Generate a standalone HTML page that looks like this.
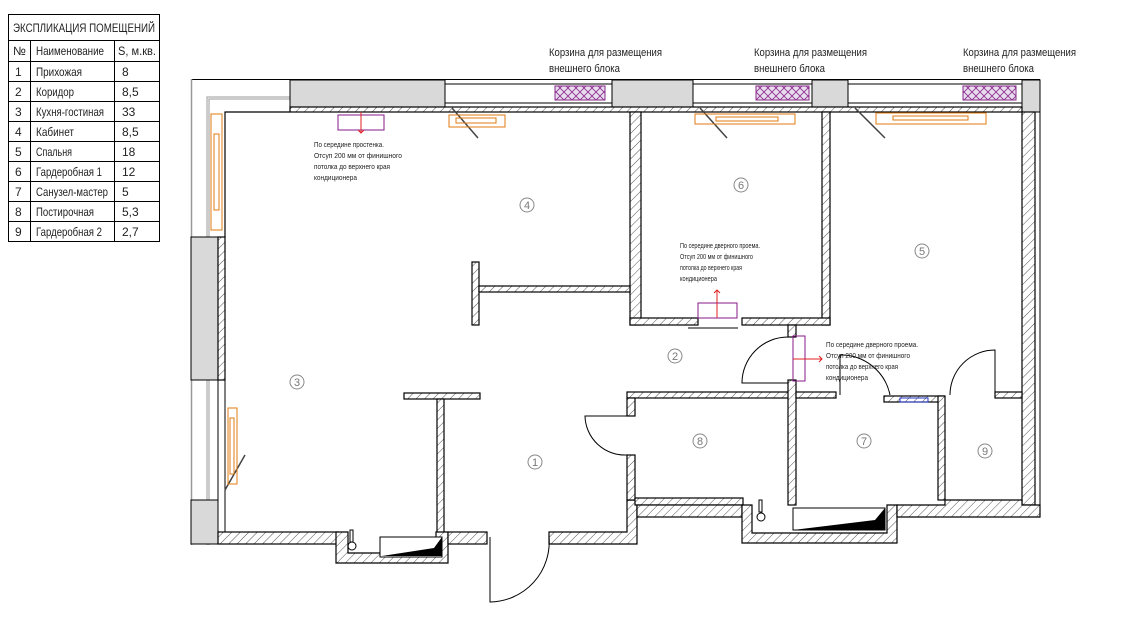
<!DOCTYPE html>
<html><head><meta charset="utf-8"><style>
html,body{margin:0;padding:0;background:#fff;width:1140px;height:627px;overflow:hidden}
svg{display:block}
text{font-family:"Liberation Sans",sans-serif}
</style></head><body>
<svg width="1140" height="627" viewBox="0 0 1140 627" xmlns="http://www.w3.org/2000/svg">
<defs>
<pattern id="h" width="6" height="6" patternUnits="userSpaceOnUse" patternTransform="rotate(45)">
<rect width="6" height="6" fill="#fff"/><line x1="0" y1="0" x2="0" y2="6" stroke="#555" stroke-width="1"/>
</pattern>
<pattern id="x" width="8" height="8" patternUnits="userSpaceOnUse">
<rect width="8" height="8" fill="#e8dcef"/><path d="M0 0L8 8M8 0L0 8" stroke="#8a2a8a" stroke-width="0.8"/>
</pattern>
</defs>

<!-- table -->
<g font-size="12" fill="#222" stroke="none">
<rect x="8.5" y="14.5" width="151" height="227" fill="none" stroke="#000"/>
<g stroke="#000" stroke-width="1">
<line x1="8" y1="40.5" x2="160" y2="40.5"/>
<line x1="8" y1="61.5" x2="160" y2="61.5"/>
<line x1="8" y1="81.5" x2="160" y2="81.5"/>
<line x1="8" y1="101.5" x2="160" y2="101.5"/>
<line x1="8" y1="121.5" x2="160" y2="121.5"/>
<line x1="8" y1="141.5" x2="160" y2="141.5"/>
<line x1="8" y1="161.5" x2="160" y2="161.5"/>
<line x1="8" y1="181.5" x2="160" y2="181.5"/>
<line x1="8" y1="201.5" x2="160" y2="201.5"/>
<line x1="8" y1="221.5" x2="160" y2="221.5"/>
<line x1="30.5" y1="40" x2="30.5" y2="242"/>
<line x1="114.5" y1="40" x2="114.5" y2="242"/>
</g>
<text x="13" y="32" textLength="142" lengthAdjust="spacingAndGlyphs">ЭКСПЛИКАЦИЯ ПОМЕЩЕНИЙ</text>
<text x="13" y="55">№</text><text x="36" y="55" textLength="68" lengthAdjust="spacingAndGlyphs">Наименование</text><text x="118" y="55" textLength="38" lengthAdjust="spacingAndGlyphs">S, м.кв.</text>
<text x="15" y="76">1</text><text x="36" y="76" textLength="46" lengthAdjust="spacingAndGlyphs">Прихожая</text><text x="122" y="76">8</text>
<text x="15" y="96">2</text><text x="36" y="96" textLength="38" lengthAdjust="spacingAndGlyphs">Коридор</text><text x="122" y="96">8,5</text>
<text x="15" y="116">3</text><text x="36" y="116" textLength="68" lengthAdjust="spacingAndGlyphs">Кухня-гостиная</text><text x="122" y="116">33</text>
<text x="15" y="136">4</text><text x="36" y="136" textLength="38" lengthAdjust="spacingAndGlyphs">Кабинет</text><text x="122" y="136">8,5</text>
<text x="15" y="156">5</text><text x="36" y="156" textLength="36" lengthAdjust="spacingAndGlyphs">Спальня</text><text x="122" y="156">18</text>
<text x="15" y="176">6</text><text x="36" y="176" textLength="66" lengthAdjust="spacingAndGlyphs">Гардеробная 1</text><text x="122" y="176">12</text>
<text x="15" y="196">7</text><text x="36" y="196" textLength="72" lengthAdjust="spacingAndGlyphs">Санузел-мастер</text><text x="122" y="196">5</text>
<text x="15" y="216">8</text><text x="36" y="216" textLength="58" lengthAdjust="spacingAndGlyphs">Постирочная</text><text x="122" y="216">5,3</text>
<text x="15" y="236">9</text><text x="36" y="236" textLength="66" lengthAdjust="spacingAndGlyphs">Гардеробная 2</text><text x="122" y="236">2,7</text>
</g>

<!-- labels top -->
<g font-size="11" fill="#222">
<text x="549" y="56" textLength="113" lengthAdjust="spacingAndGlyphs">Корзина для размещения</text><text x="549" y="72" textLength="71" lengthAdjust="spacingAndGlyphs">внешнего блока</text>
<text x="754" y="56" textLength="113" lengthAdjust="spacingAndGlyphs">Корзина для размещения</text><text x="754" y="72" textLength="71" lengthAdjust="spacingAndGlyphs">внешнего блока</text>
<text x="963" y="56" textLength="113" lengthAdjust="spacingAndGlyphs">Корзина для размещения</text><text x="963" y="72" textLength="71" lengthAdjust="spacingAndGlyphs">внешнего блока</text>
</g>

<!-- outer lines -->
<line x1="191" y1="79.5" x2="1040" y2="79.5" stroke="#000"/>
<line x1="191.5" y1="79" x2="191.5" y2="545" stroke="#999" stroke-width="1.5"/>
<path d="M208 545V98H290" fill="none" stroke="#999" stroke-width="3"/>
<path d="M208 545V98H290" fill="none" stroke="#fff" stroke-width="1"/>

<!-- gray blocks -->
<g fill="#d9d9d9" stroke="#000">
<rect x="290" y="80" width="155" height="27"/>
<rect x="612" y="80" width="81" height="27"/>
<rect x="812" y="80" width="36" height="27"/>
<rect x="1022" y="80" width="18" height="32"/>
<rect x="191" y="237" width="27" height="143"/>
<rect x="191" y="500" width="27" height="44"/>
</g>
<!-- baskets -->
<g fill="#fff" stroke="#000">
<rect x="445" y="84" width="167" height="19"/>
<rect x="693" y="84" width="119" height="19"/>
<rect x="848" y="84" width="174" height="19"/>
</g>
<g fill="url(#x)" stroke="#8a2a8a">
<rect x="555" y="86" width="50" height="14"/>
<rect x="756" y="86" width="53" height="14"/>
<rect x="963" y="86" width="53" height="14"/>
</g>

<!-- walls (hatched) -->
<g fill="url(#h)" stroke="#000" stroke-width="1.2">
<rect x="290" y="107" width="732" height="5"/>
<rect x="218" y="237" width="7" height="143"/>
<rect x="630" y="112" width="11" height="213"/>
<rect x="822" y="112" width="8" height="213"/>
<rect x="630" y="318" width="68" height="7"/>
<rect x="742" y="318" width="88" height="7"/>
<rect x="1022" y="112" width="13" height="393"/>
<rect x="472" y="262" width="7" height="63"/>
<rect x="479" y="286" width="151" height="6"/>
<rect x="404" y="393" width="76" height="6"/>
<rect x="437" y="399" width="7" height="134"/>
<rect x="218" y="532" width="120" height="12"/>
<path d="M336 532H348V553H436V532H448V563H336Z"/>
<rect x="448" y="532" width="39" height="12"/>
<path d="M549 532H627V500H637V544H549Z"/>
<rect x="627" y="392" width="162" height="6"/>
<rect x="627" y="398" width="8" height="18"/>
<rect x="627" y="455" width="8" height="45"/>
<rect x="788" y="325" width="8" height="12"/>
<rect x="788" y="380" width="8" height="125"/>
<rect x="796" y="392" width="40" height="6"/>
<rect x="884" y="396" width="60" height="6"/>
<rect x="938" y="396" width="7" height="104"/>
<rect x="995" y="392" width="27" height="6"/>
<rect x="635" y="498" width="108" height="7"/>
<rect x="637" y="505" width="105" height="12"/>
<path d="M742 505H752V533H887V505H897V543H742Z"/>
<path d="M897 505H945V500H1022V505H1040V517H897Z"/>
</g>
<line x1="1040" y1="80" x2="1040" y2="517" stroke="#000"/>

<!-- inner corner lines -->
<path d="M225 237V112H290" fill="none" stroke="#000" stroke-width="1.2"/>
<line x1="218" y1="380" x2="218" y2="500" stroke="#000"/>
<line x1="225" y1="380" x2="225" y2="532" stroke="#000"/>

<!-- bathroom fixtures -->
<rect x="380" y="537" width="62" height="20" fill="#fff" stroke="#000"/>
<path d="M382 556L442 556L442 537L434 548Z" fill="#000"/>
<circle cx="352" cy="546" r="4" fill="none" stroke="#000"/>
<rect x="350" y="530" width="3" height="12" fill="none" stroke="#000"/>
<rect x="793" y="508" width="92" height="22" fill="#fff" stroke="#000"/>
<path d="M793 530L885 530L885 508L875 520Z" fill="#000"/>
<circle cx="761" cy="517" r="4" fill="none" stroke="#000"/>
<rect x="759" y="500" width="3" height="12" fill="none" stroke="#000"/>
<rect x="900" y="398" width="28" height="4" fill="none" stroke="#2233cc"/>

<!-- doors -->
<g fill="none" stroke="#000" stroke-width="1">
<path d="M490 537V602A60 60 0 0 0 549 537"/>
<path d="M627 416H585A40 40 0 0 0 627 455"/>
<path d="M788 337A46 46 0 0 0 742 383H788"/>
<path d="M840 395V355A50 50 0 0 1 890 395"/>
<path d="M995 392V350A45 45 0 0 0 950 395"/>
<line x1="688" y1="328" x2="738" y2="328"/>
</g>

<!-- window diagonals -->
<g stroke="#444" stroke-width="1.5">
<line x1="452" y1="108" x2="478" y2="138"/>
<line x1="700" y1="108" x2="727" y2="138"/>
<line x1="855" y1="108" x2="885" y2="138"/>
<line x1="245" y1="455" x2="225" y2="490"/>
</g>

<!-- AC units -->
<g fill="none" stroke="#e07b10">
<rect x="449" y="115" width="56" height="12"/><rect x="456" y="118" width="40" height="5"/>
<rect x="695" y="114" width="100" height="10"/><rect x="716" y="117" width="62" height="4"/>
<rect x="876" y="113" width="110" height="11"/><rect x="893" y="116" width="75" height="4"/>
<rect x="211" y="114" width="11" height="116"/><rect x="214" y="134" width="5" height="76"/>
<rect x="228" y="408" width="9" height="76"/><rect x="230" y="418" width="4" height="56"/>
</g>
<g fill="none" stroke="#8a1a8a">
<rect x="338" y="115" width="46" height="15"/>
<rect x="698" y="303" width="39" height="15"/>
<rect x="793" y="336" width="12" height="45"/>
</g>
<g stroke="#e02020" fill="none">
<line x1="361" y1="112" x2="361" y2="133"/><path d="M358 130L361 133L364 130"/>
<line x1="717" y1="318" x2="717" y2="290"/><path d="M714 293L717 290L720 293"/>
<line x1="793" y1="359" x2="822" y2="359"/><path d="M819 356L822 359L819 362"/>
</g>

<!-- notes -->
<g font-size="7.5" fill="#222">
<text x="314" y="147" textLength="70" lengthAdjust="spacingAndGlyphs">По середине простенка.</text>
<text x="314" y="158" textLength="88" lengthAdjust="spacingAndGlyphs">Отсуп 200 мм от финишного</text>
<text x="314" y="169" textLength="76" lengthAdjust="spacingAndGlyphs">потолка до верхнего края</text>
<text x="314" y="180" textLength="43" lengthAdjust="spacingAndGlyphs">кондиционера</text>
<text x="680" y="248" textLength="80" lengthAdjust="spacingAndGlyphs">По середине дверного проема.</text>
<text x="680" y="259" textLength="73" lengthAdjust="spacingAndGlyphs">Отсуп 200 мм от финишного</text>
<text x="680" y="270" textLength="62" lengthAdjust="spacingAndGlyphs">потолка до верхнего края</text>
<text x="680" y="281" textLength="37" lengthAdjust="spacingAndGlyphs">кондиционера</text>
<text x="826" y="347" textLength="92" lengthAdjust="spacingAndGlyphs">По середине дверного проема.</text>
<text x="826" y="358" textLength="84" lengthAdjust="spacingAndGlyphs">Отсуп 200 мм от финишного</text>
<text x="826" y="369" textLength="72" lengthAdjust="spacingAndGlyphs">потолка до верхнего края</text>
<text x="826" y="380" textLength="42" lengthAdjust="spacingAndGlyphs">кондиционера</text>
</g>

<!-- room numbers -->
<g font-size="11" fill="#777" text-anchor="middle">
<g fill="none" stroke="#888">
<circle cx="527" cy="205" r="7"/><circle cx="741" cy="185" r="7"/><circle cx="922" cy="251" r="7"/>
<circle cx="675" cy="356" r="7"/><circle cx="297" cy="382" r="7"/><circle cx="535" cy="462" r="7"/>
<circle cx="700" cy="441" r="7"/><circle cx="864" cy="441" r="7"/><circle cx="985" cy="451" r="7"/>
</g>
<text x="527" y="209">4</text><text x="741" y="189">6</text><text x="922" y="255">5</text>
<text x="675" y="360">2</text><text x="297" y="386">3</text><text x="535" y="466">1</text>
<text x="700" y="445">8</text><text x="864" y="445">7</text><text x="985" y="455">9</text>
</g>
</svg>
</body></html>
